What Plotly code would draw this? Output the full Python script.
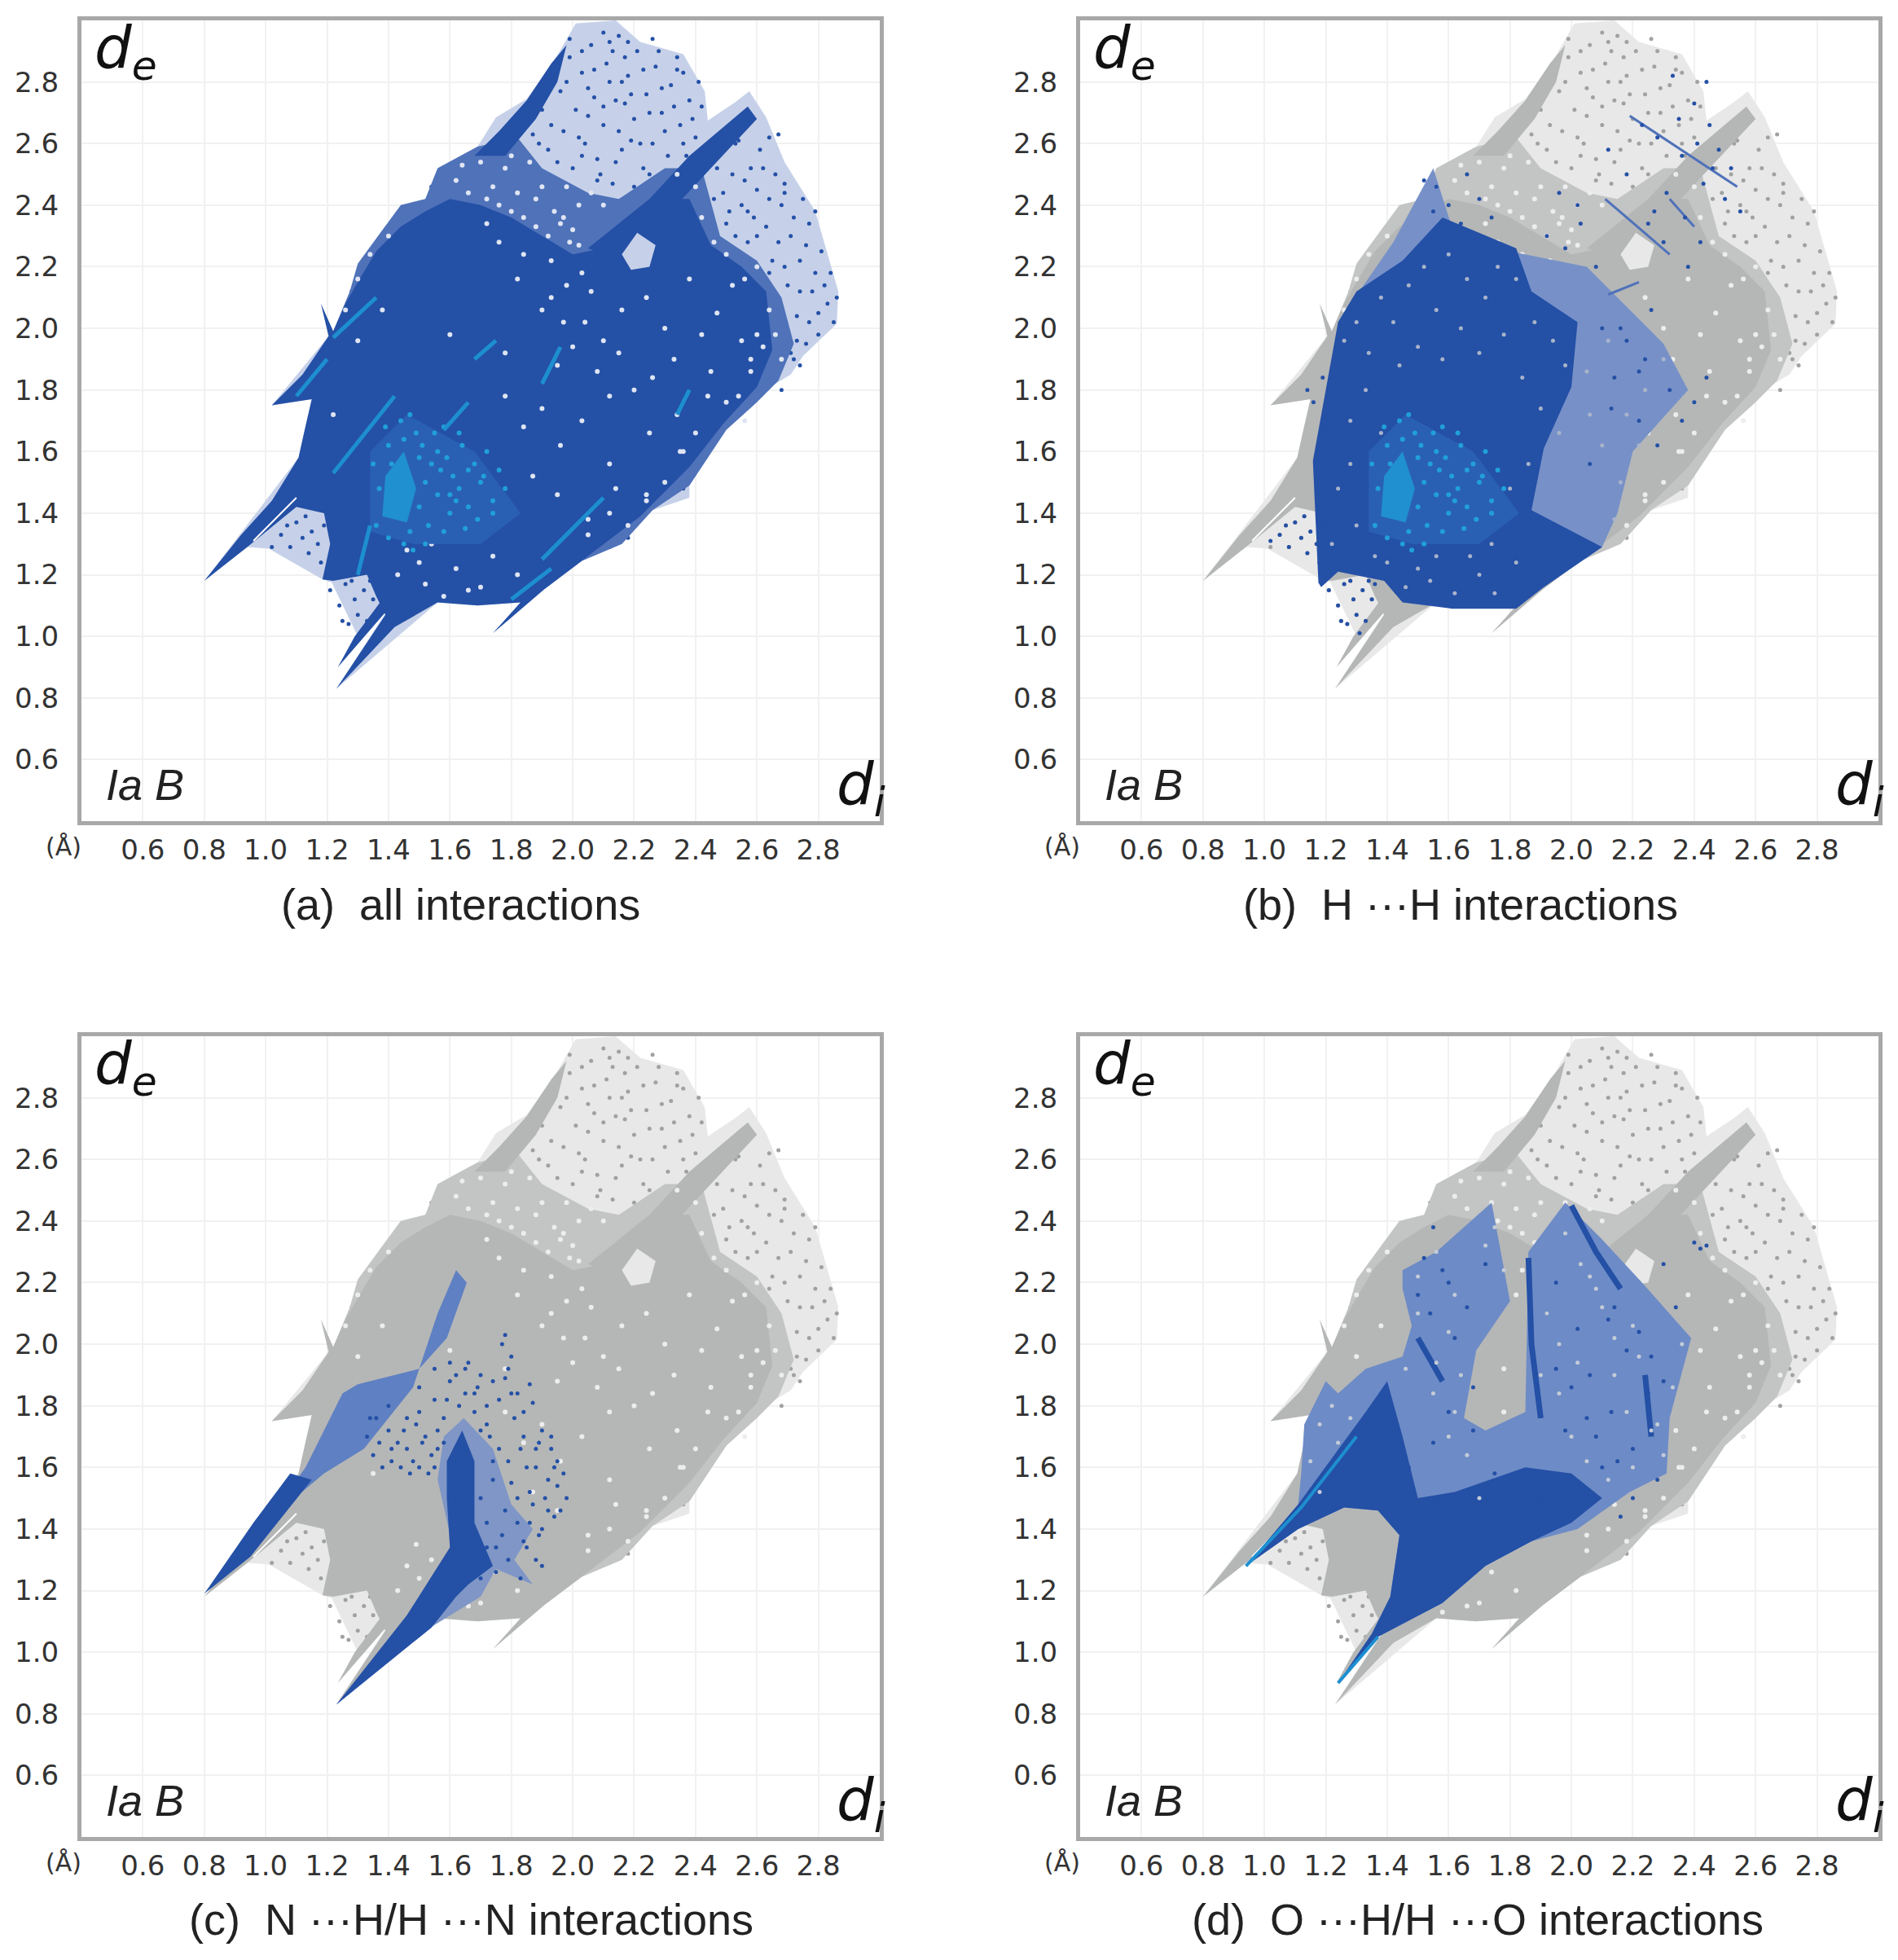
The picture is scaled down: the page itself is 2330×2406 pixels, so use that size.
import plotly.graph_objects as go

W, H = 2330, 2406

# --- panel text / ticks
captions = ["(a)  all interactions", "(b)  H ···H interactions",
            "(c)  N ···H/H ···N interactions", "(d)  O ···H/H ···O interactions"]
tick_vals = [0.6, 0.8, 1.0, 1.2, 1.4, 1.6, 1.8, 2.0, 2.2, 2.4, 2.6, 2.8]
tick_text = ["0.6", "0.8", "1.0", "1.2", "1.4", "1.6", "1.8", "2.0", "2.2", "2.4", "2.6", "2.8"]

# --- full surface outline (di, de in angstrom)
env_x = [0.80, 1.107, 1.127, 1.15, 1.02, 1.205, 1.18, 1.22, 1.274, 1.30, 1.38, 1.44, 1.52, 1.56, 1.69, 1.75, 1.85,
         1.94, 2.01, 2.14, 2.22, 2.36, 2.43, 2.44, 2.53, 2.575, 2.63, 2.69, 2.79, 2.865, 2.86, 2.75, 2.71, 2.61,
         2.50, 2.38, 2.38, 2.26, 2.16, 2.03, 1.91, 1.74, 1.83, 1.69, 1.56, 1.23, 1.40, 1.235, 1.30, 1.215, 1.185,
         1.01, 0.94]
env_y = [1.18, 1.58, 1.67, 1.77, 1.75, 1.975, 2.08, 1.99, 2.12, 2.21, 2.32, 2.40, 2.42, 2.52, 2.59, 2.685, 2.745,
         2.87, 2.99, 3.0, 2.93, 2.89, 2.77, 2.675, 2.735, 2.77, 2.685, 2.54, 2.38, 2.12, 2.015, 1.91, 1.85, 1.79,
         1.67, 1.49, 1.45, 1.41, 1.30, 1.245, 1.155, 1.01, 1.11, 1.10, 1.11, 0.83, 1.09, 0.90, 1.0, 1.175, 1.185,
         1.285, 1.29]

# half dense part of the surface
mid_x = [1.22, 1.274, 1.30, 1.38, 1.44, 1.52, 1.56, 1.69, 1.82, 1.90, 2.05, 2.15, 2.30, 2.42, 2.48, 2.60, 2.68,
         2.72, 2.67, 2.60, 2.50, 2.38, 2.26, 2.16, 2.03, 1.91, 1.60, 1.30]
mid_y = [1.99, 2.12, 2.21, 2.32, 2.40, 2.42, 2.52, 2.59, 2.62, 2.52, 2.44, 2.42, 2.52, 2.52, 2.30, 2.22, 2.10,
         1.95, 1.83, 1.76, 1.67, 1.49, 1.41, 1.30, 1.245, 1.155, 1.20, 1.50]

# solid part of the surface, with the spikes
core_x = [0.80, 0.92, 1.02, 1.107, 1.127, 1.15, 1.02, 1.12, 1.205, 1.18, 1.22, 1.26, 1.30, 1.36, 1.44, 1.52, 1.60,
          1.70, 1.80, 1.90, 2.00, 2.10, 2.20, 2.30, 2.38, 2.45, 2.55, 2.63, 2.65, 2.60, 2.49, 2.38, 2.22, 2.10,
          2.03, 1.91, 1.74, 1.83, 1.69, 1.56, 1.42, 1.23, 1.39, 1.36, 1.33, 1.22, 1.185, 1.21, 1.19, 1.10, 0.94]
core_y = [1.18, 1.33, 1.44, 1.58, 1.67, 1.77, 1.75, 1.85, 1.975, 2.08, 1.99, 2.08, 2.15, 2.25, 2.33, 2.38, 2.42,
          2.40, 2.36, 2.30, 2.24, 2.26, 2.34, 2.42, 2.42, 2.27, 2.20, 2.12, 1.93, 1.81, 1.69, 1.55, 1.39, 1.30,
          1.245, 1.155, 1.01, 1.11, 1.10, 1.11, 1.03, 0.83, 1.07, 1.13, 1.20, 1.18, 1.185, 1.30, 1.40, 1.42, 1.29]

spike_x = [1.235, 1.29, 1.38, 1.40]
spike_y = [0.90, 1.00, 1.12, 1.09]
band1_x = [1.68, 1.76, 1.85, 1.93, 1.98, 1.95, 1.88, 1.78]
band1_y = [2.56, 2.64, 2.74, 2.86, 2.92, 2.80, 2.68, 2.56]
band2_x = [2.05, 2.25, 2.38, 2.57, 2.60, 2.45, 2.30, 2.15]
band2_y = [2.26, 2.42, 2.56, 2.72, 2.68, 2.52, 2.36, 2.22]
gap_x = [2.16, 2.21, 2.27, 2.25, 2.19]
gap_y = [2.24, 2.31, 2.27, 2.20, 2.19]
slit_x = [0.96, 1.10]
slit_y = [1.31, 1.45]

# sparse dots of the outer surface
speck_x = [1.78, 1.83, 1.87, 1.90, 1.92, 1.96, 1.97, 2.00, 2.01, 2.03, 2.04, 2.06, 2.07, 2.08, 2.10, 2.11, 2.13, 2.14,
           2.15, 2.16, 2.18, 2.20, 2.21, 2.23, 2.24, 2.26, 2.27, 2.29, 2.31, 2.32, 2.34, 2.35, 2.38, 2.40, 2.41, 1.99,
           2.12, 2.19, 2.28, 2.36, 2.05, 2.17, 2.46, 2.50, 2.52, 2.55, 2.57, 2.60, 2.61, 2.63, 2.65, 2.66, 2.68, 2.70,
           2.71, 2.73, 2.74, 2.75, 2.77, 2.78, 2.80, 2.81, 2.83, 2.84, 2.72, 2.76, 2.70, 2.86, 2.67, 2.64, 2.58, 2.79,
           2.69, 2.62, 2.54, 1.02, 1.05, 1.08, 1.10, 1.12, 1.13, 1.15, 1.17, 1.19, 1.07, 1.14, 1.18, 1.21, 1.24, 1.26,
           1.27, 1.29, 1.30, 1.32, 1.33, 1.35, 1.28, 1.31, 1.36, 1.25, 1.34]
speck_y = [2.62, 2.55, 2.63, 2.71, 2.58, 2.77, 2.64, 2.52, 2.71, 2.83, 2.60, 2.92, 2.75, 2.55, 2.66, 2.86, 2.47, 2.74,
           2.95, 2.58, 2.82, 2.68, 2.90, 2.52, 2.76, 2.60, 2.85, 2.70, 2.56, 2.79, 2.88, 2.66, 2.74, 2.62, 2.80, 2.88,
           2.93, 2.61, 2.47, 2.83, 2.69, 2.73, 2.42, 2.34, 2.50, 2.40, 2.28, 2.45, 2.58, 2.33, 2.22, 2.50, 2.40, 2.14,
           2.30, 2.04, 2.22, 2.42, 2.34, 2.12, 1.98, 2.25, 2.08, 2.18, 1.90, 1.95, 1.98, 2.10, 2.63, 2.62, 2.52, 2.38,
           2.47, 2.15, 2.61, 1.29, 1.33, 1.29, 1.37, 1.32, 1.39, 1.34, 1.30, 1.36, 1.36, 1.27, 1.24, 1.15, 1.10, 1.17,
           1.04, 1.12, 1.07, 1.15, 1.05, 1.12, 1.18, 1.01, 1.17, 1.05, 1.18]
speck2_x = [1.80, 1.85, 1.89, 1.93, 1.95, 1.98, 2.02, 2.05, 2.09, 2.12, 2.15, 2.17, 2.19, 2.22, 2.25, 2.28, 2.30, 2.33,
            2.36, 2.39, 1.99, 2.03, 2.07, 2.10, 2.13, 2.18, 2.23, 2.26, 2.29, 2.34, 2.03, 2.08, 2.14, 2.20, 2.25, 2.31,
            2.37, 2.42, 2.10, 2.16, 2.47, 2.49, 2.51, 2.53, 2.56, 2.59, 2.62, 2.64, 2.67, 2.69, 2.72, 2.74, 2.76, 2.79,
            2.82, 2.85, 2.80, 2.77, 2.73, 2.68, 2.30, 2.33, 2.36, 2.28, 2.24, 2.20, 2.18, 2.12, 2.34, 2.26, 1.32, 1.36,
            1.40, 1.44, 1.48, 1.54, 1.60, 1.66, 1.28, 1.34, 2.74, 2.71, 2.66, 2.69, 2.64, 2.60, 2.57, 2.53, 2.49, 2.68]
speck2_y = [2.58, 2.68, 2.60, 2.66, 2.54, 2.80, 2.62, 2.78, 2.50, 2.80, 2.64, 2.88, 2.76, 2.60, 2.70, 2.90, 2.64, 2.72,
            2.60, 2.68, 2.94, 2.90, 2.84, 2.96, 2.90, 2.93, 2.84, 2.94, 2.78, 2.84, 2.56, 2.48, 2.54, 2.46, 2.50, 2.50,
            2.56, 2.72, 2.72, 2.80, 2.52, 2.44, 2.38, 2.30, 2.48, 2.36, 2.52, 2.42, 2.28, 2.44, 2.36, 2.12, 2.27, 2.18,
            2.14, 2.02, 2.05, 2.02, 1.96, 2.00, 1.46, 1.50, 1.48, 1.44, 1.40, 1.36, 1.32, 1.29, 1.54, 1.48, 2.14, 2.24,
            2.28, 2.36, 2.38, 2.46, 2.50, 2.56, 2.12, 2.20, 1.88, 1.92, 1.86, 2.20, 2.18, 2.30, 2.38, 2.60, 2.62, 1.80]

# white holes inside the solid part
hole_x = [1.72, 1.76, 1.80, 1.84, 1.88, 1.93, 1.97, 2.02, 2.06, 1.82, 1.90, 1.98, 2.04, 2.10, 1.95, 2.00, 2.08, 2.15,
          2.20, 2.26, 2.30, 2.16, 2.24, 2.33, 2.38, 2.42, 2.47, 2.52, 2.45, 2.55, 2.50, 2.58, 1.78, 1.84, 1.90, 1.96,
          2.03, 2.12, 1.87, 1.95, 2.05, 2.14, 2.25, 2.35, 1.46, 1.50, 1.54, 1.43, 1.62, 1.70, 1.74, 1.82, 1.58, 1.66,
          2.12, 2.24, 2.05, 2.34, 1.30, 1.38, 1.22, 1.35, 1.60, 1.78, 2.40, 2.44, 2.56, 2.60, 1.49, 1.52]
hole_y = [2.34, 2.28, 2.38, 2.24, 2.33, 2.22, 2.36, 2.27, 2.12, 2.16, 2.06, 2.14, 2.02, 1.96, 1.88, 1.94, 1.86, 1.92,
          1.80, 1.84, 2.00, 2.06, 2.10, 1.90, 2.16, 1.98, 2.05, 2.14, 1.86, 1.96, 1.76, 1.90, 1.78, 1.68, 1.74, 1.62,
          1.70, 1.56, 1.52, 1.46, 1.38, 1.48, 1.66, 1.60, 1.28, 1.24, 1.30, 1.20, 1.22, 1.16, 1.26, 1.20, 1.13, 1.15,
          1.78, 1.44, 1.33, 1.72, 1.96, 2.06, 1.72, 1.58, 1.98, 1.92, 1.66, 1.78, 1.70, 1.98, 1.35, 1.17]
hole2_x = [1.62, 1.66, 1.70, 1.74, 1.78, 1.82, 1.86, 1.90, 1.94, 1.98, 2.02, 1.64, 1.72, 1.80, 1.88, 1.96, 2.06, 1.76,
           1.84, 1.92, 2.00, 2.10, 2.34, 2.40, 2.46, 2.42, 2.50, 2.56, 2.60, 2.64, 2.66, 2.62, 2.58, 2.68, 2.54, 2.36,
           2.30, 2.24, 2.18, 2.12, 1.93, 1.97, 1.99, 2.03, 1.26, 1.30, 1.34, 1.40]
hole2_y = [2.48, 2.44, 2.54, 2.46, 2.52, 2.44, 2.54, 2.46, 2.38, 2.46, 2.40, 2.53, 2.42, 2.56, 2.42, 2.34, 2.44, 2.40,
           2.36, 2.30, 2.32, 2.40, 2.50, 2.46, 2.28, 2.36, 2.24, 2.16, 2.20, 2.06, 1.98, 1.94, 1.86, 1.90, 1.78, 1.60,
           1.50, 1.46, 1.36, 1.40, 2.10, 2.02, 2.28, 2.18, 2.06, 2.16, 2.24, 2.30]

# panel (a) bright streaks, None splits the segments
glow_x = [1.22, 1.36, None, 1.10, 1.20, None, 1.22, 1.42, None, 1.58, 1.66, None, 1.68, 1.75, None, 1.90, 2.10, None,
          1.80, 1.93, None, 2.34, 2.38, None, 1.30, 1.34, None, 1.90, 1.96]
glow_y = [1.97, 2.10, None, 1.78, 1.90, None, 1.53, 1.78, None, 1.67, 1.76, None, 1.90, 1.96, None, 1.25, 1.45, None,
          1.12, 1.22, None, 1.72, 1.80, None, 1.20, 1.36, None, 1.82, 1.94]
teal_x = [1.34, 1.34, 1.46, 1.68, 1.83, 1.70, 1.48]
teal_y = [1.34, 1.60, 1.72, 1.60, 1.40, 1.30, 1.30]
cyan_x = [1.38, 1.39, 1.45, 1.49, 1.46]
cyan_y = [1.39, 1.52, 1.60, 1.48, 1.37]
spark_x = [1.36, 1.40, 1.43, 1.47, 1.50, 1.53, 1.56, 1.60, 1.63, 1.66, 1.70, 1.74, 1.78, 1.37, 1.41, 1.45, 1.50, 1.55,
           1.59, 1.64, 1.68, 1.72, 1.76, 1.42, 1.46, 1.52, 1.57, 1.61, 1.66, 1.71, 1.40, 1.44, 1.49, 1.54, 1.58, 1.62,
           1.35, 1.39, 1.47, 1.51, 1.56, 1.60, 1.52, 1.48, 1.45, 1.65, 1.69, 1.58, 1.63, 1.74]
spark_y = [1.36, 1.32, 1.40, 1.34, 1.42, 1.36, 1.46, 1.40, 1.48, 1.42, 1.50, 1.44, 1.48, 1.48, 1.56, 1.64, 1.58, 1.66,
           1.58, 1.62, 1.56, 1.60, 1.54, 1.44, 1.52, 1.50, 1.54, 1.52, 1.54, 1.52, 1.62, 1.70, 1.66, 1.56, 1.68, 1.44,
           1.56, 1.68, 1.72, 1.62, 1.60, 1.46, 1.30, 1.28, 1.30, 1.35, 1.38, 1.34, 1.66, 1.40]

# panel (b) H...H contacts
hh_core_x = [1.176, 1.158, 1.24, 1.30, 1.45, 1.58, 1.82, 1.87, 2.02, 2.00, 1.91, 1.87, 2.10, 1.91, 1.82, 1.61, 1.45,
             1.39, 1.24, 1.185]
hh_core_y = [1.174, 1.57, 2.02, 2.12, 2.22, 2.36, 2.26, 2.12, 2.02, 1.81, 1.61, 1.41, 1.29, 1.16, 1.09, 1.09, 1.11,
             1.18, 1.21, 1.16]
hh_mid_x = [1.24, 1.42, 1.55, 1.62, 1.80, 2.05, 2.30, 2.38, 2.20, 2.15, 2.10, 1.91, 1.60, 1.30]
hh_mid_y = [2.02, 2.28, 2.52, 2.30, 2.25, 2.20, 1.95, 1.80, 1.60, 1.40, 1.29, 1.16, 1.30, 1.70]
hh_line_x = [2.19, 2.54, None, 2.11, 2.32, None, 2.12, 2.22, None, 2.32, 2.40]
hh_line_y = [2.69, 2.46, None, 2.42, 2.24, None, 2.11, 2.15, None, 2.42, 2.33]
hh_dot_x = [1.02, 1.05, 1.08, 1.10, 1.12, 1.13, 1.15, 1.17, 1.19, 1.07, 1.14, 1.18, 1.21, 1.24, 1.26, 1.27, 1.29, 1.30,
            1.32, 1.33, 1.35, 1.28, 1.31, 1.36, 1.25, 1.34, 1.14, 1.16, 1.19, 2.12, 2.18, 2.23, 2.28, 2.31, 2.36, 2.41,
            2.46, 2.50, 2.25, 2.30, 2.37, 2.43, 2.48, 2.52, 2.55, 2.40, 2.44, 2.33, 2.27, 2.38, 2.42, 2.16, 2.22, 1.96,
            2.03, 2.08, 1.66, 1.70, 1.74, 2.45, 2.35, 2.22, 2.28, 2.13, 2.32, 2.40, 2.36, 2.44, 2.24, 2.18, 2.14, 2.26,
            2.10, 2.06, 1.56, 1.60, 1.52, 1.64, 1.55, 1.92, 1.98, 2.02]
hh_dot_y = [1.31, 1.33, 1.29, 1.37, 1.32, 1.39, 1.34, 1.30, 1.36, 1.36, 1.27, 1.24, 1.15, 1.10, 1.17, 1.04, 1.12, 1.07,
            1.15, 1.05, 1.12, 1.18, 1.01, 1.17, 1.05, 1.18, 1.80, 1.76, 1.84, 2.58, 2.50, 2.66, 2.62, 2.44, 2.56, 2.60,
            2.52, 2.42, 2.34, 2.28, 2.36, 2.47, 2.58, 2.52, 2.38, 2.73, 2.80, 2.82, 2.38, 2.20, 2.28, 2.00, 1.86, 2.44,
            2.34, 2.20, 2.50, 2.42, 2.36, 2.66, 2.68, 1.70, 1.62, 1.74, 1.80, 1.76, 1.70, 1.84, 1.90, 1.96, 1.84, 2.06,
            2.00, 1.56, 2.46, 2.40, 2.48, 2.34, 2.38, 2.30, 2.26, 2.40]
hh_gray_x = [1.26, 1.30, 1.34, 1.38, 1.42, 1.47, 1.52, 1.56, 1.60, 1.66, 1.72, 1.76, 1.82, 1.88, 1.94, 1.98, 1.28, 1.33,
             1.38, 1.44, 1.50, 1.58, 1.64, 1.70, 1.78, 1.84, 1.90, 1.96, 1.24, 1.30, 1.36, 1.50, 1.56, 1.68, 1.74, 1.80,
             1.86, 1.70, 1.62, 1.54, 1.46, 1.40, 1.52, 1.60, 1.67, 1.75, 1.82, 1.22, 1.28, 2.05, 2.12, 2.18, 2.24, 2.30,
             2.10, 2.16, 2.22, 2.06, 2.14]
hh_gray_y = [1.96, 2.02, 1.92, 2.10, 2.02, 2.14, 2.20, 2.06, 2.24, 2.16, 2.10, 2.20, 2.16, 2.02, 1.96, 1.88, 1.70, 1.80,
             1.66, 1.88, 1.94, 1.90, 2.00, 1.92, 1.98, 1.84, 1.74, 1.66, 1.48, 1.36, 1.26, 1.22, 1.26, 1.40, 1.30, 1.48,
             1.56, 1.20, 1.14, 1.18, 1.16, 1.24, 1.38, 1.34, 1.26, 1.14, 1.24, 1.30, 1.56, 1.86, 1.96, 1.72, 1.80, 1.90,
             1.62, 1.50, 1.62, 1.72, 1.38]

# panel (c) N...H contacts
nh_arm_x = [0.80, 0.93, 1.07, 1.19, 1.32, 1.48, 1.56, 1.62, 1.655, 1.59, 1.50, 1.30, 1.25, 1.13, 0.97]
nh_arm_y = [1.19, 1.32, 1.48, 1.58, 1.66, 1.86, 2.10, 2.24, 2.20, 2.02, 1.92, 1.87, 1.84, 1.60, 1.38]
nh_tip_x = [0.80, 0.95, 1.07, 1.15, 1.08, 0.96]
nh_tip_y = [1.19, 1.31, 1.46, 1.56, 1.58, 1.42]
nh_low_x = [1.23, 1.42, 1.61, 1.56, 1.58, 1.645, 1.74, 1.80, 1.87, 1.81, 1.87, 1.75, 1.70, 1.52]
nh_low_y = [0.83, 1.06, 1.34, 1.56, 1.70, 1.76, 1.66, 1.48, 1.40, 1.30, 1.22, 1.27, 1.18, 1.07]
nh_spine_x = [1.23, 1.46, 1.60, 1.59, 1.59, 1.64, 1.68, 1.68, 1.74, 1.66, 1.62, 1.54]
nh_spine_y = [0.83, 1.12, 1.34, 1.50, 1.62, 1.72, 1.62, 1.42, 1.28, 1.22, 1.18, 1.08]
nh_dot_x = [1.33, 1.35, 1.38, 1.41, 1.44, 1.47, 1.50, 1.53, 1.55, 1.36, 1.40, 1.46, 1.52, 1.56, 1.50, 1.55, 1.60, 1.65,
            1.70, 1.74, 1.78, 1.82, 1.86, 1.87, 1.84, 1.80, 1.76, 1.72, 1.68, 1.78, 1.80, 1.79, 1.77, 1.72, 1.90, 1.93,
            1.95, 1.97, 1.98, 1.94, 1.91, 1.88, 1.83, 1.89, 1.86, 1.79, 1.74, 1.82, 1.92, 1.96, 1.76, 1.70, 1.85, 1.90,
            1.78, 1.72, 1.84, 1.66, 1.62, 1.58, 1.70, 1.74, 1.80, 1.88, 1.93, 1.75, 1.83, 1.70, 1.46, 1.56, 1.51, 1.40,
            1.34, 1.43, 1.49, 1.58, 1.63, 1.68, 1.73, 1.81, 1.85, 1.89, 1.92, 1.95, 1.87, 1.82, 1.77, 1.72, 1.84, 1.88,
            1.79, 1.75, 1.90, 1.86, 1.94, 1.69, 1.65, 1.60, 1.55, 1.50, 1.45, 1.41, 1.37, 1.48, 1.54, 1.59]
nh_dot_y = [1.70, 1.64, 1.60, 1.62, 1.60, 1.58, 1.60, 1.58, 1.60, 1.76, 1.80, 1.76, 1.70, 1.66, 1.86, 1.92, 1.94, 1.92,
            1.90, 1.88, 1.89, 1.84, 1.87, 1.81, 1.78, 1.84, 1.82, 1.80, 1.84, 2.03, 1.96, 1.92, 2.00, 1.74, 1.72, 1.66,
            1.62, 1.58, 1.50, 1.44, 1.50, 1.60, 1.66, 1.38, 1.42, 1.62, 1.56, 1.50, 1.56, 1.46, 1.66, 1.50, 1.34, 1.28,
            1.46, 1.42, 1.70, 1.94, 1.90, 1.76, 1.72, 1.62, 1.55, 1.66, 1.70, 1.34, 1.24, 1.24, 1.66, 1.72, 1.68, 1.72,
            1.76, 1.68, 1.74, 1.68, 1.80, 1.78, 1.70, 1.76, 1.60, 1.68, 1.46, 1.54, 1.48, 1.42, 1.38, 1.34, 1.36, 1.30,
            1.30, 1.26, 1.40, 1.52, 1.60, 1.86, 1.84, 1.88, 1.82, 1.78, 1.72, 1.66, 1.68, 1.62, 1.64, 1.82]

# panel (d) O...H contacts
oh_out_x = [0.94, 1.11, 1.12, 1.13, 1.20, 1.24, 1.33, 1.45, 1.48, 1.45, 1.45, 1.56, 1.74, 1.80, 1.69, 1.65, 1.72, 1.85,
            1.86, 1.98, 2.10, 2.23, 2.39, 2.32, 2.31, 2.19, 2.02, 1.87, 1.72, 1.58, 1.37, 1.24, 1.35, 1.41, 1.44, 1.37,
            1.26, 1.11]
oh_out_y = [1.28, 1.48, 1.58, 1.74, 1.88, 1.84, 1.92, 1.96, 2.06, 2.18, 2.24, 2.30, 2.46, 2.14, 1.98, 1.76, 1.72, 1.78,
            2.30, 2.46, 2.34, 2.20, 2.02, 1.76, 1.58, 1.52, 1.40, 1.36, 1.28, 1.16, 1.05, 0.90, 1.06, 1.18, 1.38, 1.46,
            1.47, 1.40]
oh_core_x = [0.94, 1.11, 1.22, 1.33, 1.40, 1.45, 1.50, 1.62, 1.85, 2.00, 2.10, 2.00, 1.87, 1.72, 1.58, 1.37, 1.24,
             1.35, 1.41, 1.44, 1.37, 1.26, 1.11]
oh_core_y = [1.28, 1.48, 1.63, 1.78, 1.88, 1.70, 1.50, 1.52, 1.60, 1.58, 1.50, 1.42, 1.36, 1.28, 1.16, 1.05, 0.90,
             1.06, 1.18, 1.38, 1.46, 1.47, 1.40]
oh_band_x = [1.86, 1.87, 1.90, None, 2.00, 2.08, 2.16, None, 1.50, 1.58, None, 2.24, 2.26]
oh_band_y = [2.28, 2.00, 1.76, None, 2.45, 2.30, 2.18, None, 2.02, 1.88, None, 1.90, 1.70]
oh_glow_x = [0.94, 1.12, 1.30, None, 1.24, 1.37]
oh_glow_y = [1.28, 1.47, 1.70, None, 0.90, 1.05]
oh_dot_x = [1.55, 1.60, 1.66, 1.72, 1.62, 1.68, 1.95, 2.02, 2.06, 2.13, 2.20, 2.28, 2.10, 2.04, 1.98, 2.16, 2.34, 2.30,
            2.40, 2.42, 2.44, 1.52, 1.60, 1.75, 1.78, 2.00, 2.05, 2.12, 2.18, 2.25, 1.47, 1.55, 1.62, 1.68, 1.76, 1.82,
            1.90, 2.08, 2.15, 2.20, 1.50, 1.54, 1.58, 1.95, 1.92, 2.22, 2.26, 2.30, 2.14]
oh_dot_y = [2.38, 2.20, 2.12, 2.26, 2.02, 1.86, 2.20, 2.05, 1.90, 1.78, 1.66, 1.56, 1.60, 1.48, 1.72, 1.44, 2.12, 2.26,
            2.33, 2.31, 2.32, 2.28, 1.78, 1.58, 1.46, 1.86, 1.76, 2.08, 1.98, 1.84, 1.60, 1.68, 1.40, 1.72, 1.52, 1.42,
            1.50, 1.70, 1.62, 1.50, 2.16, 2.10, 2.24, 1.92, 2.10, 2.04, 1.96, 1.88, 2.12]
oh_gray_x = [1.15, 1.18, 1.22, 1.18, 1.24, 1.28, 1.46, 1.50, 1.55, 1.60, 1.64, 1.50, 1.56, 1.60, 1.66, 1.62, 1.72, 1.78,
             1.92, 1.96, 2.02, 2.08, 2.14, 2.20, 2.26, 2.30, 2.00, 2.05, 2.12, 2.18, 1.96, 2.03, 2.10, 2.22, 2.33, 2.36,
             1.90, 1.98, 2.06, 2.14, 2.20, 2.28, 1.56, 1.62, 1.70, 1.75]
oh_gray_y = [1.62, 1.74, 1.80, 1.52, 1.68, 1.76, 1.92, 2.10, 1.84, 2.04, 1.90, 2.22, 2.30, 1.70, 1.64, 2.16, 2.32, 2.24,
             2.10, 2.00, 1.94, 2.18, 1.90, 2.06, 1.72, 1.64, 1.70, 1.62, 1.56, 1.78, 1.84, 2.26, 2.12, 1.96, 1.86, 2.00,
             1.90, 2.36, 2.22, 2.02, 1.60, 1.74, 1.94, 1.78, 1.50, 2.38]

# colours
BLUE = "#2450a6"
BLUE_MID = "#4f72b9"
BLUE_LIGHT = "#c6d1e9"
GRAY = "#b5b7b7"
GRAY_MID = "#c3c4c4"
GRAY_LIGHT = "#e8e8e8"

# panel boxes in pixels: left, top (the page body adds 8 px, taken off here)
BOX = 983
PAGE = 8
lefts = [100 - PAGE, 1326 - PAGE, 100 - PAGE, 1326 - PAGE]
tops = [25 - PAGE, 25 - PAGE, 1272 - PAGE, 1272 - PAGE]

fig = go.Figure()


def area(n, xs, ys, color):
    fig.add_trace(go.Scatter(x=xs, y=ys, xaxis=f"x{n}", yaxis=f"y{n}", mode="lines", fill="toself",
                             fillcolor=color, line=dict(width=0, color=color), hoverinfo="skip"))


def dots(n, xs, ys, color, size=5):
    fig.add_trace(go.Scatter(x=xs, y=ys, xaxis=f"x{n}", yaxis=f"y{n}", mode="markers",
                             marker=dict(size=size, color=color, line=dict(width=0)), hoverinfo="skip"))


def lines(n, xs, ys, color, width):
    fig.add_trace(go.Scatter(x=xs, y=ys, xaxis=f"x{n}", yaxis=f"y{n}", mode="lines",
                             line=dict(width=width, color=color), hoverinfo="skip"))


def surface(n, solid, mid, light, dot, hole):
    area(n, env_x, env_y, light)
    dots(n, speck_x, speck_y, dot)
    dots(n, speck2_x, speck2_y, dot)
    area(n, mid_x, mid_y, mid)
    area(n, core_x, core_y, solid)
    area(n, spike_x, spike_y, solid)
    area(n, band1_x, band1_y, solid)
    area(n, band2_x, band2_y, solid)
    area(n, gap_x, gap_y, light)
    lines(n, slit_x, slit_y, "white", 2)
    dots(n, hole_x, hole_y, hole, 6)
    dots(n, hole2_x, hole2_y, hole, 6)


# (a)
surface(1, BLUE, BLUE_MID, BLUE_LIGHT, BLUE, "#dfe5f2")
area(1, teal_x, teal_y, "#2a60b4")
dots(1, spark_x, spark_y, "#21a0d8", 6)
area(1, cyan_x, cyan_y, "#2090d0")
lines(1, glow_x, glow_y, "#1d8fd0", 5)

# (b)
surface(2, GRAY, GRAY_MID, GRAY_LIGHT, "#a0a2a2", "#ededed")
area(2, hh_mid_x, hh_mid_y, "#7791c8")
area(2, hh_core_x, hh_core_y, BLUE)
dots(2, hh_gray_x, hh_gray_y, "#a9b4ca", 5)
area(2, teal_x, teal_y, "#2a60b4")
dots(2, spark_x, spark_y, "#21a0d8", 6)
area(2, cyan_x, cyan_y, "#2090d0")
lines(2, hh_line_x, hh_line_y, BLUE_MID, 3)
dots(2, hh_dot_x, hh_dot_y, BLUE)

# (c)
surface(3, GRAY, GRAY_MID, GRAY_LIGHT, "#a0a2a2", "#ededed")
area(3, nh_arm_x, nh_arm_y, "#5f80c2")
area(3, nh_tip_x, nh_tip_y, BLUE)
area(3, nh_low_x, nh_low_y, "#7f96c6")
area(3, nh_spine_x, nh_spine_y, BLUE)
dots(3, nh_dot_x, nh_dot_y, BLUE)

# (d)
surface(4, GRAY, GRAY_MID, GRAY_LIGHT, "#a0a2a2", "#ededed")
area(4, oh_out_x, oh_out_y, "#6d8bc6")
area(4, oh_core_x, oh_core_y, BLUE)
lines(4, oh_band_x, oh_band_y, BLUE, 7)
lines(4, oh_glow_x, oh_glow_y, "#1d8fd0", 4)
dots(4, oh_dot_x, oh_dot_y, BLUE)
dots(4, oh_gray_x, oh_gray_y, "#c4ccd8", 5)

layout = dict(width=W, height=H, margin=dict(l=0, r=0, t=0, b=0), showlegend=False,
              paper_bgcolor="white", plot_bgcolor="white", font=dict(family="DejaVu Sans"))
axis = dict(range=[0.4, 3.0], tickvals=tick_vals, ticktext=tick_text, showgrid=True, gridcolor="#f1f1f1",
            gridwidth=2, zeroline=False, showline=True, mirror=True, linecolor="#a8a8a8", linewidth=5,
            ticks="outside", tickcolor="rgba(0,0,0,0)",
            tickfont=dict(family="DejaVu Sans", size=34, color="#333333"))
for i in range(4):
    n = i + 1
    x0 = lefts[i] / W
    x1 = (lefts[i] + BOX - 3) / W
    y1 = 1 - tops[i] / H
    y0 = 1 - (tops[i] + BOX) / H
    layout[f"xaxis{n if n > 1 else ''}"] = dict(axis, domain=[x0, x1], anchor=f"y{n}", ticklen=1)
    layout[f"yaxis{n if n > 1 else ''}"] = dict(axis, domain=[y0, y1], anchor=f"x{n}", ticklen=16)
fig.update_layout(**layout)

caption_x = [557, 1785, 570, 1806]
caption_y = [1102, 1102, 2348, 2348]
for i in range(4):
    L, T = lefts[i], tops[i]
    texts = [
        ("<i>d<sub>e</sub></i>", L + 14, T + 38, 72, "DejaVu Sans", "#111111", "left"),
        ("<i>d<sub>i</sub></i>", L + 925, T + 942, 72, "DejaVu Sans", "#111111", "left"),
        ("<i>Ia B</i>", L + 28, T + 938, 54, "Liberation Sans", "#222222", "left"),
        ("(Å)", L + 2, T + 1014, 30, "DejaVu Sans", "#333333", "right"),
        (captions[i], caption_x[i], caption_y[i], 54, "Liberation Sans", "#222222", "center"),
    ]
    for text, px, py, size, family, color, anchor in texts:
        fig.add_annotation(text=text, x=px / W, y=1 - py / H, xref="paper", yref="paper", showarrow=False,
                           xanchor=anchor, yanchor="middle", font=dict(family=family, size=size, color=color))

fig.write_html("out.html", config=dict(displayModeBar=False))
